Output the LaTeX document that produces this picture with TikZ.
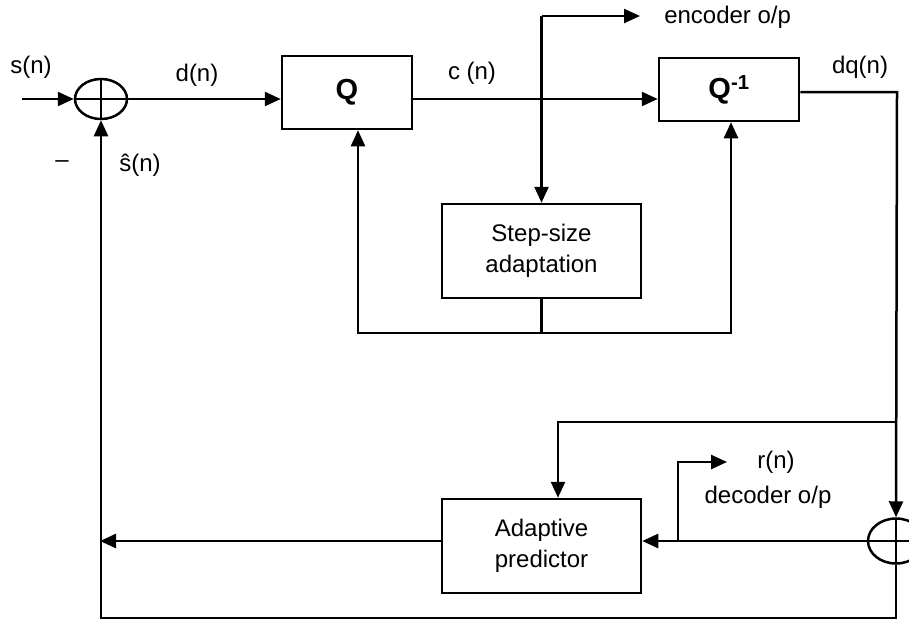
\documentclass[tikz,border=0pt]{standalone}
\usepackage{fontspec}
\setmainfont{Liberation Sans}
\usetikzlibrary{shapes.geometric,arrows.meta}
\begin{document}
\begin{tikzpicture}[x=1pt,y=-1pt,line width=2.5pt,
  >={Triangle[length=16pt,width=14pt]},
  font=\fontsize{24}{31}\selectfont,
  blk/.style={draw,line width=2.5pt,inner sep=0pt,align=center},
  summer/.style={draw,ellipse,line width=2.5pt,inner sep=0pt,
    path picture={\draw[line width=2.5pt] (path picture bounding box.north) -- (path picture bounding box.south)
      (path picture bounding box.west) -- (path picture bounding box.east);}},
  lbl/.style={inner sep=0pt}]
\useasboundingbox (0,0) rectangle (909,622);
\fill[white] (0,0) rectangle (909,622);
% nodes
\node[summer,minimum width=52pt,minimum height=40pt] (S1) at (101,99) {};
\node[summer,minimum width=56pt,minimum height=45pt] (S2) at (896,541) {};
\node[blk,minimum width=130pt,minimum height=73pt,font=\fontsize{29}{31}\selectfont\bfseries] (Q) at (347,92.5) {Q};
\node[blk,minimum width=140pt,minimum height=63pt,font=\fontsize{29}{31}\selectfont\bfseries] (Qi) at (729,89.5) {Q\textsuperscript{-1}};
\node[blk,minimum width=199pt,minimum height=94pt] (Step) at (541.5,251) {Step-size\\adaptation};
\node[blk,minimum width=199pt,minimum height=94pt] (Pred) at (541.5,546) {Adaptive\\predictor};
% coordinates
\coordinate (in) at (22,99);
\coordinate (encTop) at (541.5,16);
\coordinate (encEnd) at (640,16);
\coordinate (fbL) at (358,333);
\coordinate (fbR) at (731,333);
\coordinate (dqC) at (897,92);
\coordinate (brR) at (897,422);
\coordinate (brL) at (558,422);
\coordinate (rB) at (678,541);
\coordinate (rT) at (678,462);
\coordinate (rE) at (727,462);
\coordinate (lfC) at (100,541);
\coordinate (botL) at (100,618);
\coordinate (botR) at (896,618);
% connectors
\draw[->] (in) -- (S1.west);
\draw[->] (S1.east) -- (Q.west |- S1);
\draw[->] (Q.east |- S1) -- (Qi.west |- S1);
\draw[->] (encTop) -- (Step.north);
\draw[->] (encTop) -- (encEnd);
\draw (Step.south) -- (Step.south |- fbL);
\draw[->] (fbR) -- (fbL) -- (Q.south -| fbL);
\draw[->] (fbL) -- (fbR) -- (Qi.south -| fbR);
\draw[->] (Qi.east |- dqC) -- (dqC) -- (S2.north);
\draw[->] (brR) -- (brL) -- (Pred.north -| brL);
\draw[->] (S2.west) -- (Pred.east |- S2);
\draw[->] (rB) -- (rT) -- (rE);
\draw[->] (Pred.west |- S2) -- (lfC);
\draw[->] (S2.south) -- (botR) -- (botL) -- (S1.south |- botL) -- (S1.south);
% labels
\node[lbl] at (31,67) {s(n)};
\node[lbl] at (197,75) {d(n)};
\node[lbl] at (472,73) {c (n)};
\node[lbl] at (860,67) {dq(n)};
\node[lbl] at (62,164) {–};
\node[lbl] at (140,165) {ŝ(n)};
\node[lbl,anchor=west] at (663,17) {encoder o/p};
\node[lbl] at (776,462) {r(n)};
\node[lbl] at (768,497) {decoder o/p};
\end{tikzpicture}
\end{document}
